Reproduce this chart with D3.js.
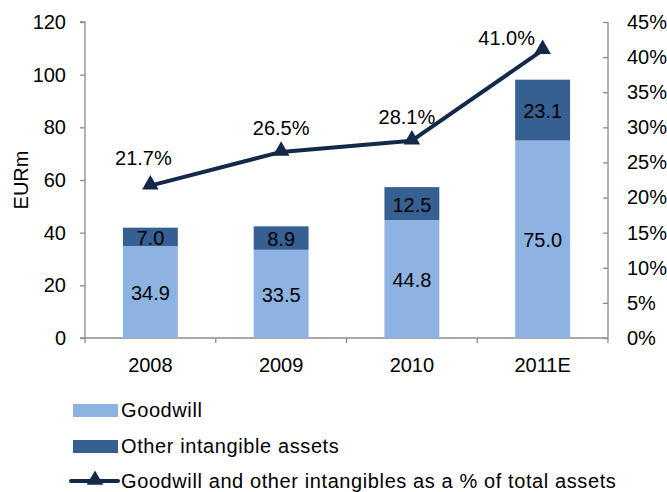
<!DOCTYPE html>
<html><head><meta charset="utf-8">
<script src="https://cdn.jsdelivr.net/npm/d3@7"></script>
<style>body{margin:0;background:#fff}text{font-family:"Liberation Sans",Arial,sans-serif}</style>
</head><body><svg id="c" width="667" height="492"></svg>
<script>
const categories = ["2008","2009","2010","2011E"];
const goodwill = [34.9, 33.5, 44.8, 75.0];
const otherIntangibles = [7.0, 8.9, 12.5, 23.1];
const pctOfAssets = [21.7, 26.5, 28.1, 41.0];
const leftTicks = [0,20,40,60,80,100,120];
const rightTicks = [0,5,10,15,20,25,30,35,40,45];
const seriesNames = ["Goodwill","Other intangible assets","Goodwill and other intangibles as a % of total assets"];

const colGood = "#8DB3E2", colOther = "#366092", colLine = "#14294A", axisCol = "#8c8c8c";
const svg = d3.select("#c");
const L = 85, R = 608, T = 22, B = 338;
const x = d3.scaleBand().domain(categories).range([L, R]).paddingInner(0.58).paddingOuter(0.29);
const y = d3.scaleLinear().domain([0,120]).range([B, T]);
const y2 = d3.scaleLinear().domain([0,45]).range([B, T]);
const fs = 20;

// axes
const gl = svg.append("g").attr("transform",`translate(${L},0)`).call(d3.axisLeft(y).tickValues(leftTicks).tickSize(5).tickPadding(14));
const gr = svg.append("g").attr("transform",`translate(${R},0)`).call(d3.axisRight(y2).tickValues(rightTicks).tickFormat(d=>d+"%").tickSize(0).tickPadding(19));
gr.selectAll(".tick").append("line").attr("x1",-5).attr("x2",0).attr("stroke",axisCol);
[gl,gr].forEach(g=>{g.select(".domain").attr("stroke",axisCol).attr("stroke-width",1.3);
  g.selectAll(".tick line").attr("stroke",axisCol).attr("stroke-width",1.3);
  g.selectAll("text").attr("font-size",fs).attr("fill","#000").style("font-family","Liberation Sans, Arial, sans-serif");});
gl.select(".domain").attr("d",`M-5,${T}H0V${B}H-5`);
gr.select(".domain").attr("d",`M0,${T}V${B}`);

// x axis
const step = x.step();
const gx = svg.append("g");
gx.append("line").attr("x1",L).attr("x2",R).attr("y1",B).attr("y2",B).attr("stroke",axisCol).attr("stroke-width",1.3);
const bounds = d3.range(categories.length+1).map(i=>L+i*step);
gx.selectAll("line.t").data(bounds).join("line").attr("class","t").attr("x1",d=>d).attr("x2",d=>d).attr("y1",B).attr("y2",B+5).attr("stroke",axisCol).attr("stroke-width",1.3);
gx.selectAll("text").data(categories).join("text").attr("x",d=>x(d)+x.bandwidth()/2).attr("y",B+34).attr("text-anchor","middle").attr("font-size",fs).text(d=>d);

// y label
svg.append("text").attr("transform",`translate(28,${(T+B)/2}) rotate(-90)`).attr("text-anchor","middle").attr("font-size",fs).text("EURm");

// bars
const bw = x.bandwidth();
svg.selectAll("rect.g").data(categories).join("rect").attr("x",d=>x(d)).attr("width",bw)
  .attr("y",(d,i)=>y(goodwill[i])).attr("height",(d,i)=>y(0)-y(goodwill[i])).attr("fill",colGood);
svg.selectAll("rect.o").data(categories).join("rect").attr("x",d=>x(d)).attr("width",bw)
  .attr("y",(d,i)=>y(goodwill[i]+otherIntangibles[i])).attr("height",(d,i)=>y(goodwill[i])-y(goodwill[i]+otherIntangibles[i])).attr("fill",colOther);
svg.selectAll("text.gv").data(categories).join("text").attr("x",d=>x(d)+bw/2).attr("y",(d,i)=>(y(0)+y(goodwill[i]))/2+8)
  .attr("text-anchor","middle").attr("font-size",fs).text((d,i)=>goodwill[i].toFixed(1));
svg.selectAll("text.ov").data(categories).join("text").attr("x",d=>x(d)+bw/2).attr("y",(d,i)=>(y(goodwill[i])+y(goodwill[i]+otherIntangibles[i]))/2+8)
  .attr("text-anchor","middle").attr("font-size",fs).text((d,i)=>otherIntangibles[i].toFixed(1));

// line
const cx = d=>x(d)+bw/2;
const line = d3.line().x((d,i)=>cx(categories[i])).y(d=>y2(d));
svg.append("path").datum(pctOfAssets).attr("d",line).attr("fill","none").attr("stroke",colLine).attr("stroke-width",4).attr("stroke-linejoin","round");
const tri = d3.symbol().type(d3.symbolTriangle).size(120);
svg.selectAll("path.m").data(pctOfAssets).join("path").attr("d",tri)
  .attr("transform",(d,i)=>`translate(${cx(categories[i])},${y2(d)-1})`).attr("fill",colLine);
const ldx = [-7, 0, -5, -36];
const ldy = [-21, -17, -17, -5];
svg.selectAll("text.p").data(pctOfAssets).join("text").attr("x",(d,i)=>cx(categories[i])+ldx[i]).attr("y",(d,i)=>y2(d)+ldy[i])
  .attr("text-anchor","middle").attr("font-size",fs).text(d=>d.toFixed(1)+"%");

// legend
const lg = svg.append("g");
const rows = [410, 446, 481];
lg.append("rect").attr("x",73).attr("y",rows[0]-6).attr("width",45).attr("height",13).attr("fill",colGood);
lg.append("rect").attr("x",73).attr("y",rows[1]-6).attr("width",45).attr("height",13).attr("fill",colOther);
lg.append("line").attr("x1",71).attr("x2",118).attr("y1",rows[2]).attr("y2",rows[2]).attr("stroke",colLine).attr("stroke-width",4).attr("stroke-linecap","round");
lg.append("path").attr("d",tri).attr("transform",`translate(95,${rows[2]-1})`).attr("fill",colLine);
lg.selectAll("text").data(seriesNames).join("text").attr("x",121).attr("y",(d,i)=>rows[i]+7).attr("font-size",fs)
  .attr("letter-spacing",0.6).text(d=>d);
</script></body></html>
